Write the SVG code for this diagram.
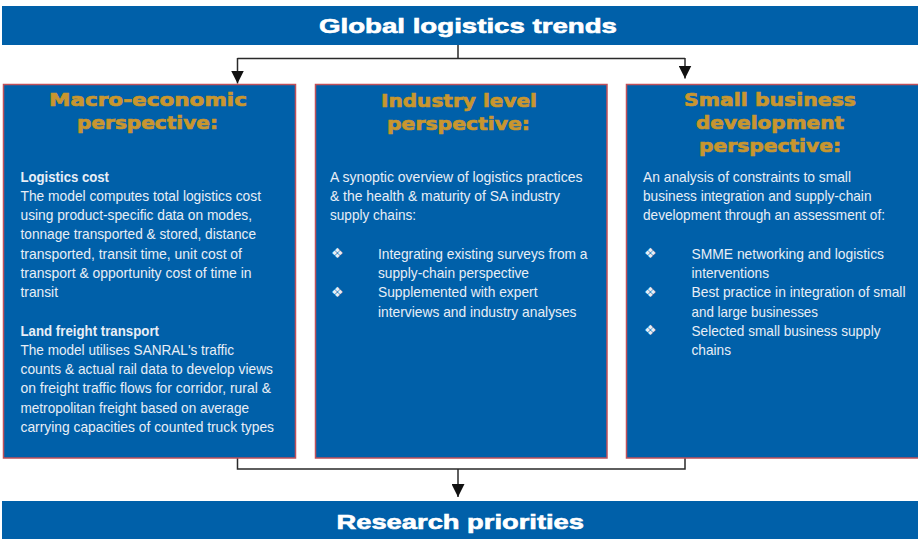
<svg xmlns="http://www.w3.org/2000/svg" width="918" height="539" viewBox="0 0 918 539">
<style>
.banner{fill:#0060A9}
.box{fill:#0060A9;stroke:#C0505A;stroke-width:1.5}
.bt{font-family:"Liberation Sans",Arial,sans-serif;font-weight:bold;font-size:20px;fill:#ffffff;stroke:#ffffff;stroke-width:0.6}
.ttl{font-family:"DejaVu Sans","Liberation Sans",sans-serif;font-weight:bold;font-size:18.5px;fill:#C8962F;stroke:#C8962F;stroke-width:0.7}
.tx{font-family:"Liberation Sans Narrow","Liberation Sans",Arial,sans-serif;font-size:14.5px;fill:#E8EEF6}
.hb{font-weight:bold}
.bul{font-family:"DejaVu Sans",sans-serif;font-size:14px;fill:#E8EEF6}
.ln{fill:none;stroke:#2a2a2a;stroke-width:1.5}
</style>
<defs>
<marker id="ah" markerWidth="13" markerHeight="13" viewBox="0 0 13 13" refX="13" refY="6.5" orient="auto" markerUnits="userSpaceOnUse">
<path d="M0,0 L13,6.5 L0,13 Z" fill="#111"/>
</marker>
</defs>
<rect width="918" height="539" fill="#ffffff"/>

<g id="connectors">
<path class="ln" d="M458,45 V58.5 M237.5,58.5 H685"/>
<path class="ln" d="M237.5,58 V83.5" marker-end="url(#ah)"/>
<path class="ln" d="M685,58 V78.5" marker-end="url(#ah)"/>
<path class="ln" d="M237.5,458 V469 H685 V458"/>
<path class="ln" d="M458,469 V497" marker-end="url(#ah)"/>
</g>

<g id="global-trends">
<rect class="banner" x="2" y="6" width="916" height="39"/>
<text class="bt" x="319" y="32.5" textLength="298" lengthAdjust="spacingAndGlyphs">Global logistics trends</text>
</g>

<g id="macro">
<rect class="box" x="3.5" y="84.5" width="292" height="373.5"/>
<text class="ttl" x="49" y="106" textLength="198" lengthAdjust="spacingAndGlyphs">Macro-economic</text>
<text class="ttl" x="77" y="128.5" textLength="141" lengthAdjust="spacingAndGlyphs">perspective:</text>
<g class="tx">
<text class="hb" x="20.5" y="181.5" textLength="88.5" lengthAdjust="spacingAndGlyphs">Logistics cost</text>
<text x="20.5" y="200.8" textLength="240.5" lengthAdjust="spacingAndGlyphs">The model computes total logistics cost</text>
<text x="20.5" y="220.1" textLength="231.5" lengthAdjust="spacingAndGlyphs">using product-specific data on modes,</text>
<text x="20.5" y="239.4" textLength="235.5" lengthAdjust="spacingAndGlyphs">tonnage transported &amp; stored, distance</text>
<text x="20.5" y="258.7" textLength="221.5" lengthAdjust="spacingAndGlyphs">transported, transit time, unit cost of</text>
<text x="20.5" y="278" textLength="231" lengthAdjust="spacingAndGlyphs">transport &amp; opportunity cost of time in</text>
<text x="20.5" y="297.3" textLength="37.5" lengthAdjust="spacingAndGlyphs">transit</text>
<text class="hb" x="20.5" y="335.5" textLength="138.5" lengthAdjust="spacingAndGlyphs">Land freight transport</text>
<text x="20.5" y="354.8" textLength="213.5" lengthAdjust="spacingAndGlyphs">The model utilises SANRAL's traffic</text>
<text x="20.5" y="374.1" textLength="252.5" lengthAdjust="spacingAndGlyphs">counts &amp; actual rail data to develop views</text>
<text x="20.5" y="393.4" textLength="250.5" lengthAdjust="spacingAndGlyphs">on freight traffic flows for corridor, rural &amp;</text>
<text x="20.5" y="412.7" textLength="228.5" lengthAdjust="spacingAndGlyphs">metropolitan freight based on average</text>
<text x="20.5" y="432" textLength="253.5" lengthAdjust="spacingAndGlyphs">carrying capacities of counted truck types</text>
</g>
</g>

<g id="industry">
<rect class="box" x="315.5" y="84.5" width="291.5" height="373.5"/>
<text class="ttl" x="381" y="106.5" textLength="156" lengthAdjust="spacingAndGlyphs">Industry level</text>
<text class="ttl" x="387" y="129.5" textLength="143" lengthAdjust="spacingAndGlyphs">perspective:</text>
<g class="tx">
<text x="330" y="181.5" textLength="252.5" lengthAdjust="spacingAndGlyphs">A synoptic overview of logistics practices</text>
<text x="330" y="200.8" textLength="230" lengthAdjust="spacingAndGlyphs">&amp; the health &amp; maturity of SA industry</text>
<text x="330" y="220.1" textLength="86" lengthAdjust="spacingAndGlyphs">supply chains:</text>
<text x="378" y="258.7" textLength="209.5" lengthAdjust="spacingAndGlyphs">Integrating existing surveys from a</text>
<text x="378" y="278" textLength="151" lengthAdjust="spacingAndGlyphs">supply-chain perspective</text>
<text x="378" y="297.3" textLength="159.5" lengthAdjust="spacingAndGlyphs">Supplemented with expert</text>
<text x="378" y="316.6" textLength="198.5" lengthAdjust="spacingAndGlyphs">interviews and industry analyses</text>
</g>
<text class="bul" x="331" y="258">❖</text>
<text class="bul" x="331" y="296.5">❖</text>
</g>

<g id="small-business">
<rect class="box" x="626.5" y="84.5" width="293" height="373.5"/>
<text class="ttl" x="684" y="106" textLength="172" lengthAdjust="spacingAndGlyphs">Small business</text>
<text class="ttl" x="696" y="129" textLength="148" lengthAdjust="spacingAndGlyphs">development</text>
<text class="ttl" x="699" y="152" textLength="142" lengthAdjust="spacingAndGlyphs">perspective:</text>
<g class="tx">
<text x="643" y="181.5" textLength="208" lengthAdjust="spacingAndGlyphs">An analysis of constraints to small</text>
<text x="643" y="200.8" textLength="228.5" lengthAdjust="spacingAndGlyphs">business integration and supply-chain</text>
<text x="643" y="220.1" textLength="242" lengthAdjust="spacingAndGlyphs">development through an assessment of:</text>
<text x="691.5" y="258.7" textLength="192.5" lengthAdjust="spacingAndGlyphs">SMME networking and logistics</text>
<text x="691.5" y="278" textLength="77.5" lengthAdjust="spacingAndGlyphs">interventions</text>
<text x="691.5" y="297.3" textLength="214" lengthAdjust="spacingAndGlyphs">Best practice in integration of small</text>
<text x="691.5" y="316.6" textLength="126.5" lengthAdjust="spacingAndGlyphs">and large businesses</text>
<text x="691.5" y="335.9" textLength="189" lengthAdjust="spacingAndGlyphs">Selected small business supply</text>
<text x="691.5" y="355.2" textLength="39.5" lengthAdjust="spacingAndGlyphs">chains</text>
</g>
<text class="bul" x="644" y="258">❖</text>
<text class="bul" x="644" y="296.5">❖</text>
<text class="bul" x="644" y="335">❖</text>
</g>

<g id="research-priorities">
<rect class="banner" x="2" y="501" width="916" height="38"/>
<text class="bt" x="336.5" y="529" font-size="21" textLength="247.5" lengthAdjust="spacingAndGlyphs">Research priorities</text>
</g>
</svg>
